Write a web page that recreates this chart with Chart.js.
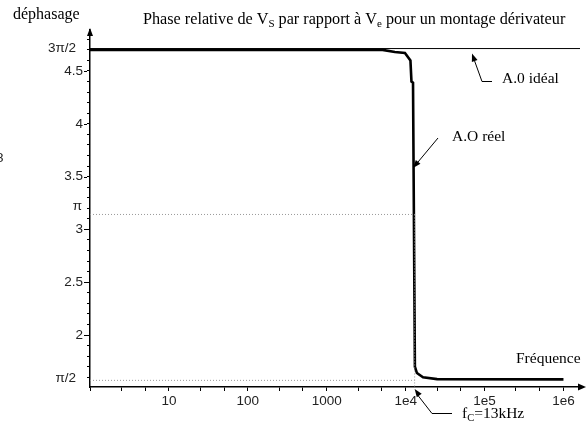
<!DOCTYPE html>
<html>
<head>
<meta charset="utf-8">
<script src="https://cdn.jsdelivr.net/npm/chart.js@4.4.0/dist/chart.umd.min.js"></script>
<style>
  html, body { margin: 0; padding: 0; background: #fff; }
</style>
</head>
<body>
<canvas id="PhaseChart" width="587" height="429"></canvas>
<script>
// montage dérivateur : phase de Vs par rapport à Ve
const freqHz    = [1, 1000, 5100, 7300, 9800, 11500, 11850, 12400, 13100, 13900, 16600, 25000, 1000000];
const phaseReel = [4.70, 4.70, 4.70, 4.68, 4.67, 4.60, 4.40, 4.39, 1.70, 1.64, 1.60, 1.583, 1.58];

const fc = 13000;              // fréquence de coupure
const phaseIdeal = 3 * Math.PI / 2;

const xMin = 1, xMax = 1.62e6;
const yMin = 1.508, yMax = 4.888;

const xMajor = [1, 10, 100, 1000, 1e4, 1e5, 1e6];
const xLabels = ['', '10', '100', '1000', '1e4', '1e5', '1e6'];
const xMinor = [2.5, 5, 25, 50, 250, 500, 2500, 5000, 25000, 50000, 250000, 500000];

const yLabelValues = [2, 2.5, 3, 3.5, 4, 4.5];
const yLabels = ['2', '2.5', '3', '3.5', '4', '4.5'];

// minor ticks every 0.1 on the phase axis
const yTicks = [];
for (let v = 16; v <= 48; v++) yTicks.push(v / 10);

const sans = 'Liberation Sans';
const serif = 'Liberation Serif';

function line(pts, color, width, dash) {
  return {
    data: pts, showLine: true, borderColor: color, borderWidth: width,
    borderDash: dash || [], pointRadius: 0, fill: false, tension: 0
  };
}

const reel = freqHz.map((f, i) => ({ x: f, y: phaseReel[i] }));

function arrowHead(ctx, x0, y0, x1, y1, len, half) {
  const a = Math.atan2(y1 - y0, x1 - x0);
  ctx.beginPath();
  ctx.moveTo(x1, y1);
  ctx.lineTo(x1 - len * Math.cos(a) + half * Math.sin(a), y1 - len * Math.sin(a) - half * Math.cos(a));
  ctx.lineTo(x1 - len * Math.cos(a) - half * Math.sin(a), y1 - len * Math.sin(a) + half * Math.cos(a));
  ctx.closePath();
  ctx.fill();
}

function richText(ctx, parts, x, y, size) {
  parts.forEach(p => {
    const s = p.sub ? size * 0.68 : size;
    ctx.font = s + 'px "' + serif + '"';
    ctx.fillText(p.t, x, p.sub ? y + 3 : y);
    x += ctx.measureText(p.t).width;
  });
}

const decor = {
  id: 'decor',
  afterDraw(chart) {
    const { ctx, chartArea: a, scales: { x, y } } = chart;
    ctx.save();
    ctx.fillStyle = '#000';
    ctx.strokeStyle = '#000';
    ctx.lineWidth = 1;

    // axis arrows
    arrowHead(ctx, a.left, a.bottom, a.left, a.top - 2, 8, 3);
    arrowHead(ctx, a.left, a.bottom, a.right + 6, a.bottom, 8, 3.5);

    // longer marks for labelled phase ticks
    ctx.beginPath();
    yLabelValues.forEach(v => {
      const py = Math.round(y.getPixelForValue(v)) + 0.5;
      ctx.moveTo(a.left - 6, py);
      ctx.lineTo(a.left - 3, py);
    });
    ctx.stroke();

    // pi labels
    ctx.font = '13.5px "' + sans + '"';
    ctx.fillStyle = '#222';
    ctx.textAlign = 'right';
    ctx.textBaseline = 'middle';
    ctx.fillText('3π/2', 76, y.getPixelForValue(phaseIdeal));
    ctx.fillText('π', 82, y.getPixelForValue(Math.PI) - 8);
    ctx.fillText('π/2', 76, y.getPixelForValue(Math.PI / 2) - 2);
    ctx.textAlign = 'left';
    ctx.fillText('8', -4, 158);

    // serif annotations
    ctx.fillStyle = '#000';
    ctx.textBaseline = 'alphabetic';
    ctx.font = '16px "' + serif + '"';
    ctx.fillText('déphasage', 13, 19);
    richText(ctx, [
      { t: 'Phase relative de V' }, { t: 'S', sub: true },
      { t: ' par rapport à V' }, { t: 'e', sub: true },
      { t: ' pour un montage dérivateur' }
    ], 143, 24, 16.2);
    ctx.font = '15.5px "' + serif + '"';
    ctx.fillText('A.0 idéal', 502, 83);
    ctx.fillText('A.O réel', 452, 141);
    ctx.fillText('Fréquence', 516, 363);
    richText(ctx, [{ t: 'f' }, { t: 'C', sub: true }, { t: '=13kHz' }], 462, 418, 15.5);

    // pointer lines
    const yIdeal = y.getPixelForValue(phaseIdeal);
    ctx.beginPath();
    ctx.moveTo(492, 81.5); ctx.lineTo(482, 81.5); ctx.lineTo(473, yIdeal + 8);
    ctx.stroke();
    arrowHead(ctx, 482, 81.5, 472, yIdeal + 5, 8, 3);

    ctx.beginPath();
    ctx.moveTo(438, 138); ctx.lineTo(418, 162);
    ctx.stroke();
    arrowHead(ctx, 438, 138, 413, 168, 8, 3);

    const xc = x.getPixelForValue(fc);
    ctx.beginPath();
    ctx.moveTo(452, 413.5); ctx.lineTo(432, 413.5); ctx.lineTo(xc + 3, a.bottom + 8);
    ctx.stroke();
    arrowHead(ctx, 432, 413.5, xc, a.bottom + 2, 8, 3);

    ctx.restore();
  }
};

new Chart(document.getElementById('PhaseChart'), {
  type: 'scatter',
  data: {
    datasets: [
      line([{ x: xMin, y: Math.PI }, { x: fc, y: Math.PI }], '#999', 1, [1, 2]),
      line([{ x: xMin, y: Math.PI / 2 }, { x: fc, y: Math.PI / 2 }], '#999', 1, [1, 2]),
      line([{ x: fc, y: Math.PI }, { x: fc, y: yMin }], '#999', 1, [1, 2]),
      line([{ x: xMin, y: phaseIdeal }, { x: xMax, y: phaseIdeal }], '#000', 1),
      line(reel, '#000', 2.6)
    ]
  },
  options: {
    responsive: false,
    animation: false,
    devicePixelRatio: 1,
    layout: { padding: { top: 30, right: 7, left: 0, bottom: 0 } },
    plugins: { legend: { display: false }, tooltip: { enabled: false } },
    scales: {
      x: {
        type: 'logarithmic',
        min: xMin, max: xMax,
        afterFit(s) { s.height = 42; },
        afterBuildTicks(s) {
          s.ticks = xMajor.concat(xMinor).sort((p, q) => p - q).map(v => ({ value: v }));
        },
        grid: { drawOnChartArea: false, tickLength: 4, tickColor: '#000' },
        border: { color: '#000', width: 1.5 },
        ticks: {
          autoSkip: false, maxRotation: 0, padding: 2, color: '#222',
          font: { family: sans, size: 13.5 },
          callback: v => { const i = xMajor.indexOf(v); return i >= 0 ? xLabels[i] : ''; }
        }
      },
      y: {
        type: 'linear',
        min: yMin, max: yMax,
        afterFit(s) { s.width = 90; },
        afterBuildTicks(s) { s.ticks = yTicks.map(v => ({ value: v })); },
        grid: { drawOnChartArea: false, tickLength: 3, tickColor: '#000' },
        border: { color: '#000', width: 1.5 },
        ticks: {
          autoSkip: false, padding: 4, color: '#222',
          font: { family: sans, size: 13.5 },
          callback: v => {
            const i = yLabelValues.findIndex(w => Math.abs(w - v) < 1e-6);
            return i >= 0 ? yLabels[i] : '';
          }
        }
      }
    }
  },
  plugins: [decor]
});
</script>
</body>
</html>
